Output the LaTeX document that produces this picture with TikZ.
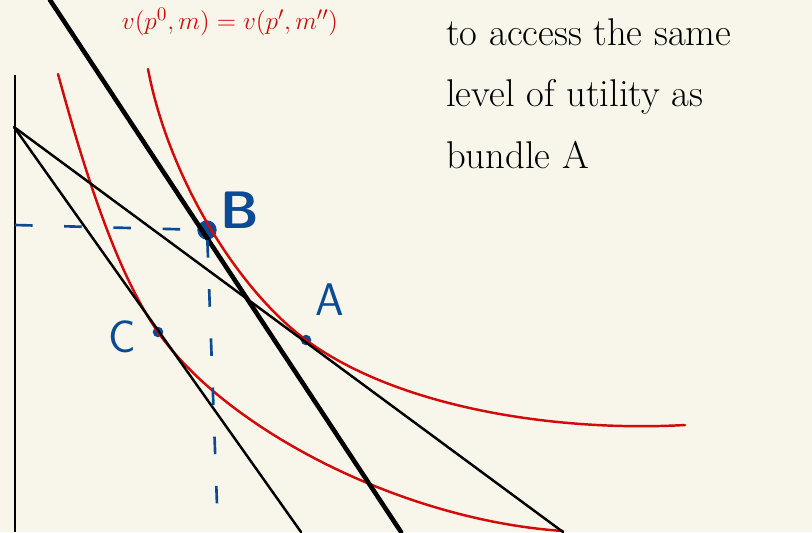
\documentclass[tikz,border=0pt]{standalone}
\usepackage{amsmath,amssymb}
\usepackage{tikz}
\usepackage{xcolor}
\definecolor{paper}{HTML}{F8F6EB}
\definecolor{inkred}{HTML}{D20A0A}
\definecolor{inkblue}{HTML}{0B4A94}

\begin{document}
\begin{tikzpicture}[x=0.02cm, y=-0.02cm,
    budget/.style={draw, line width=1.4pt, line cap=round},
    icurve/.style={draw=inkred, line width=1.4pt, line cap=round},
    guide/.style={draw=inkblue, line width=1.5pt, dash pattern=on 10pt off 18pt},
    dot/.style={circle, fill=inkblue, inner sep=0pt, minimum size=6pt},
    lbl/.style={inkblue, font=\sffamily\fontsize{26}{26}\selectfont}]

    % paper
    \fill[paper] (0,0) rectangle (812,532);
    \useasboundingbox (0,0) rectangle (812,532);

    % axis
    \draw[line width=1.6pt] (15,75) -- (15,532);

    % end points of the budget lines
    \coordinate (top) at (14,127);
    \coordinate (endA) at (563,532);
    \coordinate (endC) at (301,532);
    \coordinate (newtop) at (50,0);
    \coordinate (newend) at (401,532);
    \coordinate (yB) at (15,225);
    \coordinate (xB) at (218,532);

    % bundles
    \node[dot, minimum size=11pt] (B) at (207,230) {};
    \node[dot] (A) at (306,340) {};
    \node[dot] (C) at (158,332) {};

    % indifference curves
    \draw[icurve] (148,69) .. controls (168,175) and (236,288) .. (A.center)
                           .. controls (400,409) and (560,432) .. (685,425);
    \draw[icurve] (58,74) .. controls (80,154) and (113,268) .. (C.center)
                          .. controls (225,428) and (400,520) .. (563,531);

    % budget lines
    \draw[budget] (top) -- (endA);
    \draw[budget] (top) -- (endC);
    \draw[budget, line width=2.6pt] (newtop) -- (newend);

    % guides to B
    \draw[guide] (yB) -- (B);
    \draw[guide] (B) -- (xB);

    % labels
    \node[lbl, font=\sffamily\bfseries\fontsize{30}{30}\selectfont] (labB) at (240,210) {B};
    \node[lbl] (labA) at (330,300) {A};
    \node[lbl] (labC) at (122,337) {C};
    \node[inkred, font=\fontsize{15}{15}\selectfont] (eq) at (230,22) {$v(p^{0}, m) = v(p', m'')$};
    \node[anchor=north west, align=left, font=\fontsize{22}{35}\selectfont] (note) at (440,12)
        {to access the same\\level of utility as\\bundle A};
\end{tikzpicture}
\end{document}
